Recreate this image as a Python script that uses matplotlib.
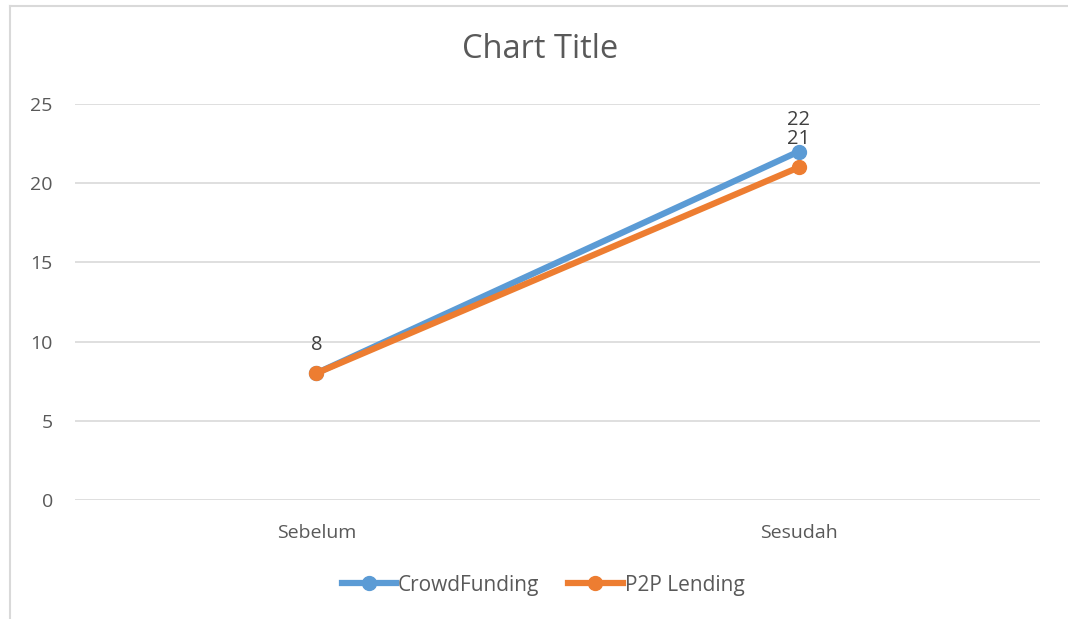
import matplotlib.pyplot as plt
from matplotlib.lines import Line2D

categories = ['Sebelum', 'Sesudah']
crowdfunding = [8, 22]
p2p_lending = [8, 21]
yticks = [0, 5, 10, 15, 20, 25]

plt.rcParams['font.family'] = ['Open Sans', 'DejaVu Sans']

fig = plt.figure(figsize=(10.68, 6.19), dpi=100)
W, H = 1068, 619
# plot area in pixels: x 75..1040, y 104..500
ax = fig.add_axes([75 / W, 1 - 500 / H, (1040 - 75) / W, (500 - 104) / H])

blue = '#5b9bd5'
orange = '#ed7d31'
text_col = '#595959'

x = range(len(categories))
ax.plot(x, crowdfunding, color=blue, lw=4.5, marker='o', ms=10, label='CrowdFunding',
        solid_capstyle='round', zorder=3)
ax.plot(x, p2p_lending, color=orange, lw=4.5, marker='o', ms=10, label='P2P Lending',
        solid_capstyle='round', zorder=4)

# data labels (the 8 of CrowdFunding sits under the P2P one)
for xi, v in zip(x, crowdfunding):
    if xi == 0:
        continue
    ax.annotate(str(v), (xi, v), xytext=(0, 19), textcoords='offset points',
                ha='center', va='baseline', fontsize=14.5, color='#404040')
for xi, v in zip(x, p2p_lending):
    ax.annotate(str(v), (xi, v), xytext=(0, 16.5), textcoords='offset points',
                ha='center', va='baseline', fontsize=14.5, color='#404040')

ax.set_xlim(-0.5, 1.5)
ax.set_ylim(0, 25)
ax.set_yticks(yticks)
ax.set_xticks(list(x))
ax.set_xticklabels(categories)
ax.grid(axis='y', color='#d9d9d9', lw=1.2)
ax.set_axisbelow(True)
for s in ax.spines.values():
    s.set_visible(False)
ax.tick_params(length=0, labelsize=14, labelcolor=text_col)
ax.tick_params(axis='x', pad=17)
ax.tick_params(axis='y', pad=16)

fig.text(540 / W, 1 - 49 / H, 'Chart Title', ha='center', va='center', fontsize=23.5, color=text_col)

handles = [Line2D([0], [0], color=blue, lw=4.5, marker='o', ms=10),
           Line2D([0], [0], color=orange, lw=4.5, marker='o', ms=10)]
fig.legend(handles, ['CrowdFunding', 'P2P Lending'], loc='center', bbox_to_anchor=(543 / W, 1 - 585 / H),
           ncol=2, frameon=False, fontsize=15, labelcolor=text_col, handlelength=2.6,
           handletextpad=0.1, columnspacing=1.4)

# chart area border (top and left visible)
fig.add_artist(Line2D([10 / W, 10 / W], [0, 1 - 6 / H], color='#d9d9d9', lw=1.5, transform=fig.transFigure))
fig.add_artist(Line2D([10 / W, 1], [1 - 6 / H, 1 - 6 / H], color='#d9d9d9', lw=1.5, transform=fig.transFigure))

fig.savefig('out.png', dpi=100)
